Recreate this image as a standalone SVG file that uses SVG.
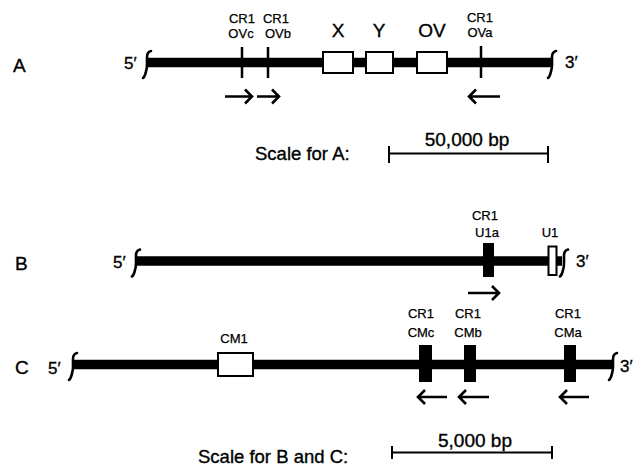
<svg xmlns="http://www.w3.org/2000/svg" width="634" height="470" viewBox="0 0 634 470">
<defs>
<style>
text{font-family:"Liberation Sans",Arial,sans-serif;fill:#000;stroke:#000;stroke-width:0.35}
.row{font-size:19px}
.end{font-size:17px}
.sm{font-size:13px;text-anchor:middle;stroke-width:0.25}
.gene{font-size:19px;text-anchor:middle}
.sc{font-size:18.5px}
.bp{font-size:19px;text-anchor:middle}
.dna{stroke:#000;stroke-width:9.5;fill:none}
.brk{stroke:#000;stroke-width:2.6;fill:none;stroke-linecap:round}
.tick{stroke:#000;stroke-width:2.5}
.wbox{fill:#fff;stroke:#000;stroke-width:2}
.bbox{fill:#000;stroke:none}
.arr{stroke:#000;stroke-width:2.6;fill:none;stroke-linejoin:miter}
.bar{stroke:#000;stroke-width:2;fill:none}
</style>
<path id="brk" d="M4,-11.5 Q0,-10.5 0,-5.5 L0,2 Q0,6 -1,9 Q-2,14 -4,15.5"/>
</defs>
<rect width="634" height="470" fill="#fff"/>

<g id="rowA">
<text class="row" x="13" y="72">A</text>
<text class="end" x="124" y="69">5′</text>
<text class="end" x="565" y="68">3′</text>
<line class="dna" x1="148" y1="62.5" x2="551" y2="62.5"/>
<use href="#brk" class="brk" x="147" y="62.5"/>
<use href="#brk" class="brk" x="552" y="62.5"/>
</g>
<g id="OVc">
<line class="tick" x1="242" y1="47" x2="242" y2="78"/>
<text class="sm" x="242" y="23">CR1</text>
<text class="sm" x="241" y="38">OVc</text>
</g>
<g id="OVb">
<line class="tick" x1="268" y1="47" x2="268" y2="78"/>
<text class="sm" x="276" y="23">CR1</text>
<text class="sm" x="278" y="38">OVb</text>
</g>
<g id="X">
<rect class="wbox" x="323" y="52" width="30" height="21"/>
<text class="gene" x="338" y="37">X</text>
</g>
<g id="Y">
<rect class="wbox" x="366" y="52" width="27" height="21"/>
<text class="gene" x="379" y="37">Y</text>
</g>
<g id="OV">
<rect class="wbox" x="417" y="52" width="30" height="21"/>
<text class="gene" x="432" y="37">OV</text>
</g>
<g id="OVa">
<line class="tick" x1="481" y1="46" x2="481" y2="78"/>
<text class="sm" x="480" y="22">CR1</text>
<text class="sm" x="480" y="37">OVa</text>
</g>

<g id="rowB">
<text class="row" x="15" y="270">B</text>
<text class="end" x="113" y="268">5′</text>
<text class="end" x="576" y="267">3′</text>
<line class="dna" x1="137" y1="261" x2="562" y2="261"/>
<use href="#brk" class="brk" x="136" y="261"/>
<use href="#brk" class="brk" x="564" y="261"/>
</g>
<g id="U1a">
<rect class="bbox" x="483" y="243" width="11" height="34"/>
<text class="sm" x="485" y="220">CR1</text>
<text class="sm" x="487" y="237">U1a</text>
</g>
<g id="U1">
<rect class="wbox" x="548.5" y="246.5" width="8" height="28.5"/>
<text class="sm" x="550" y="237">U1</text>
</g>

<g id="rowC">
<text class="row" x="15" y="374">C</text>
<text class="end" x="48" y="374">5′</text>
<text class="end" x="620" y="372">3′</text>
<line class="dna" x1="74" y1="364.5" x2="612" y2="364.5"/>
<use href="#brk" class="brk" x="73" y="364.5"/>
<use href="#brk" class="brk" x="613" y="364.5"/>
</g>
<g id="CM1">
<rect class="wbox" x="218" y="353" width="35" height="23"/>
<text class="sm" x="234" y="343">CM1</text>
</g>
<g id="CMc">
<rect class="bbox" x="419" y="345" width="13" height="37"/>
<text class="sm" x="421" y="318">CR1</text>
<text class="sm" x="421" y="337">CMc</text>
</g>
<g id="CMb">
<rect class="bbox" x="464" y="345" width="12" height="37"/>
<text class="sm" x="468" y="318">CR1</text>
<text class="sm" x="468" y="337">CMb</text>
</g>
<g id="CMa">
<rect class="bbox" x="564" y="345" width="12" height="37"/>
<text class="sm" x="568" y="318">CR1</text>
<text class="sm" x="568" y="337">CMa</text>
</g>

<g id="connectors">
<path class="arr" d="M225,96.5 H252 M245,89.5 L252,96.5 L245,103.5"/>
<path class="arr" d="M257,96.5 H279 M272,89.5 L279,96.5 L272,103.5"/>
<path class="arr" d="M500,96.5 H469 M476,89.5 L469,96.5 L476,103.5"/>
<path class="arr" d="M468,293 H499 M492,286 L499,293 L492,300"/>
<path class="arr" d="M447,397 H418 M425,390 L418,397 L425,404"/>
<path class="arr" d="M489,397 H459 M466,390 L459,397 L466,404"/>
<path class="arr" d="M589,397 H560 M567,390 L560,397 L567,404"/>
</g>

<g id="scaleA">
<text class="sc" x="255" y="160" font-size="19">Scale for A:</text>
<path class="bar" d="M389,153.5 H548 M389,146 V163 M548,146 V163"/>
<text class="bp" x="467" y="146">50,000 bp</text>
</g>
<g id="scaleBC">
<text class="sc" x="198" y="463">Scale for B and C:</text>
<path class="bar" d="M392,452.5 H552 M392,446 V459 M552,446 V459"/>
<text class="bp" x="475" y="447">5,000 bp</text>
</g>
</svg>
